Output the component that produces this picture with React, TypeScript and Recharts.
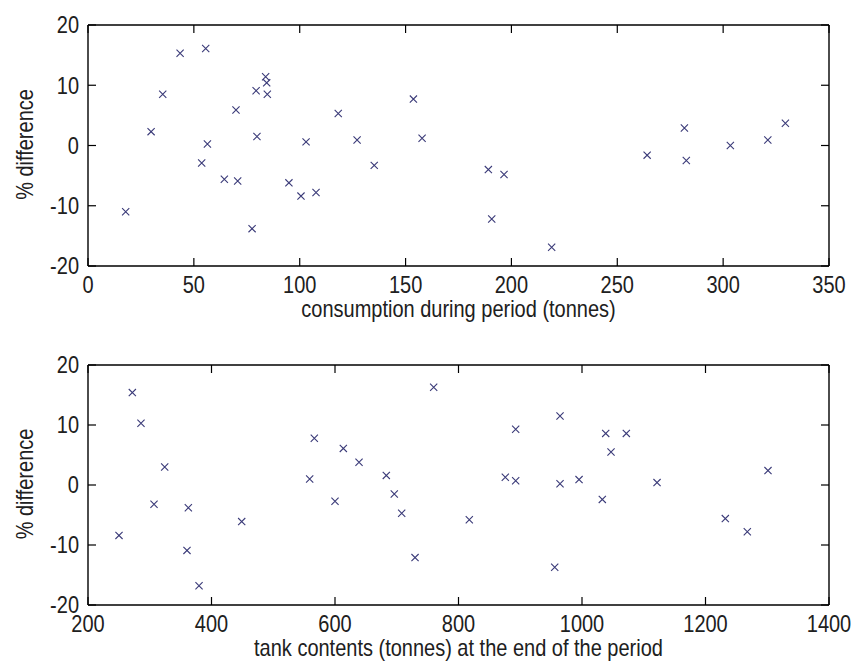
import React from "react";
import { ScatterChart, Scatter, XAxis, YAxis, Label } from "recharts";

// Top panel: consumption during period (tonnes) vs % difference
const consumption = [
  17.8, 29.8, 35.3, 43.5, 55.6, 53.7, 56.4, 64.4, 70.7, 69.9, 77.5, 79.8,
  79.4, 83.9, 84.4, 84.7, 94.9, 100.6, 103.0, 107.7, 118.2, 127.1, 135.2,
  153.7, 157.8, 189.1, 196.5, 190.7, 219.0, 264.1, 281.7, 282.6, 303.4,
  321.1, 329.4,
];
const diffTop = [
  -11.0, 2.3, 8.5, 15.3, 16.1, -2.9, 0.25, -5.6, -5.9, 5.9, -13.8, 1.5, 9.1,
  11.4, 10.4, 8.5, -6.2, -8.4, 0.6, -7.8, 5.3, 0.9, -3.3, 7.7, 1.2, -4.0,
  -4.8, -12.2, -16.9, -1.6, 2.9, -2.5, 0.0, 0.9, 3.7,
];

// Bottom panel: tank contents (tonnes) at end of period vs % difference
const tankContents = [
  250.2, 271.8, 285.8, 324.2, 306.9, 362.5, 360.3, 379.8, 448.9, 566.5, 559,
  613.5, 600, 638.9, 683.1, 696, 708, 729.6, 759.8, 817.5, 892.6, 875.8,
  892.6, 964.4, 964.4, 955.8, 995.2, 1032.9, 1038.4, 1047, 1071.8, 1121.5,
  1232.1, 1267.7, 1301.2,
];
const diffBottom = [
  -8.4, 15.4, 10.3, 3.0, -3.2, -3.8, -10.9, -16.8, -6.1, 7.8, 1.0, 6.1, -2.7,
  3.8, 1.6, -1.5, -4.7, -12.1, 16.3, -5.8, 9.3, 1.3, 0.7, 11.5, 0.2, -13.7,
  0.9, -2.4, 8.6, 5.5, 8.6, 0.4, -5.6, -7.8, 2.4,
];

const topXTicks = [0, 50, 100, 150, 200, 250, 300, 350];
const bottomXTicks = [200, 400, 600, 800, 1000, 1200, 1400];
const yTicks = [-20, -10, 0, 10, 20];

const topData = consumption.map((x, i) => ({ x, y: diffTop[i] }));
const bottomData = tankContents.map((x, i) => ({ x, y: diffBottom[i] }));

const FONT = "'Liberation Sans', Arial, sans-serif";
const FS = 20;
const SY = 1.17; // vertical stretch of the glyphs
const TXT = "#202020";
const MARK = "#3a3a78";
const TL = 8; // inward tick length

const Cross = (props: any) => {
  const { cx, cy } = props;
  if (cx == null || cy == null) return null;
  const r = 3.6;
  return (
    <path
      d={`M${cx - r},${cy - r}L${cx + r},${cy + r}M${cx - r},${cy + r}L${cx + r},${cy - r}`}
      stroke={MARK}
      strokeWidth={1.1}
      fill="none"
    />
  );
};

const Str = ({
  x,
  y,
  anchor,
  children,
  rotate,
}: {
  x: number;
  y: number;
  anchor: "start" | "middle" | "end";
  children: any;
  rotate?: boolean;
}) => (
  <text
    transform={`translate(${x},${y})${rotate ? " rotate(-90)" : ""} scale(1,${SY})`}
    x={0}
    y={0}
    textAnchor={anchor}
    fill={TXT}
    fontSize={FS}
    fontFamily={FONT}
  >
    {children}
  </text>
);

const BottomTick = (p: any) => {
  const { x, y, payload } = p;
  return (
    <g>
      <line x1={x} y1={y} x2={x} y2={y - TL} stroke="#000" strokeWidth={1.2} />
      <Str x={x} y={y + 26.5} anchor="middle">
        {payload.value}
      </Str>
    </g>
  );
};
const TopTick = (p: any) => {
  const { x, y } = p;
  return <line x1={x} y1={y} x2={x} y2={y + TL} stroke="#000" strokeWidth={1.2} />;
};
const LeftTick = (p: any) => {
  const { x, y, payload } = p;
  return (
    <g>
      <line x1={x} y1={y} x2={x + TL} y2={y} stroke="#000" strokeWidth={1.2} />
      <Str x={x - 9} y={y + 8.3} anchor="end">
        {payload.value}
      </Str>
    </g>
  );
};
const RightTick = (p: any) => {
  const { x, y } = p;
  return <line x1={x} y1={y} x2={x - TL} y2={y} stroke="#000" strokeWidth={1.2} />;
};

const axisLine = { stroke: "#000", strokeWidth: 1.4 };

function Panel({
  data,
  xDomain,
  xTicks,
  xLabel,
  height,
}: {
  data: { x: number; y: number }[];
  xDomain: [number, number];
  xTicks: number[];
  xLabel: string;
  height: number;
}) {
  return (
    <ScatterChart
      width={854}
      height={height}
      margin={{ top: 24, right: 24, bottom: 0, left: 0 }}
    >
      <XAxis
        xAxisId="b"
        dataKey="x"
        type="number"
        domain={xDomain}
        ticks={xTicks}
        allowDataOverflow
        height={66}
        tickSize={0}
        tickMargin={0}
        axisLine={axisLine}
        tickLine={false}
        tick={<BottomTick />}
        interval={0}
      >
        <Label
          content={(p: any) => {
            const vb = p.viewBox || {};
            return (
              <Str x={vb.x + vb.width / 2} y={vb.y + 51} anchor="middle">
                {xLabel}
              </Str>
            );
          }}
        />
      </XAxis>
      <XAxis
        xAxisId="t"
        orientation="top"
        type="number"
        dataKey="x"
        domain={xDomain}
        ticks={xTicks}
        allowDataOverflow
        height={1}
        tickSize={0}
        tickMargin={0}
        tick={<TopTick />}
        axisLine={axisLine}
        tickLine={false}
        interval={0}
      />
      <YAxis
        yAxisId="l"
        dataKey="y"
        type="number"
        domain={[-20, 20]}
        ticks={yTicks}
        allowDataOverflow
        width={88}
        tickSize={0}
        tickMargin={0}
        axisLine={axisLine}
        tickLine={false}
        tick={<LeftTick />}
        interval={0}
      >
        <Label
          content={(p: any) => {
            const vb = p.viewBox || {};
            const cy = vb.y + vb.height / 2 - 1;
            return (
              <Str x={33.4} y={cy} anchor="middle" rotate>
                % difference
              </Str>
            );
          }}
        />
      </YAxis>
      <YAxis
        yAxisId="r"
        orientation="right"
        type="number"
        dataKey="y"
        domain={[-20, 20]}
        ticks={yTicks}
        allowDataOverflow
        width={1}
        tickSize={0}
        tickMargin={0}
        tick={<RightTick />}
        axisLine={axisLine}
        tickLine={false}
        interval={0}
      />
      <Scatter
        xAxisId="b"
        yAxisId="l"
        data={data}
        shape={<Cross />}
        isAnimationActive={false}
      />
      <Scatter
        xAxisId="t"
        yAxisId="r"
        data={data}
        shape={() => null}
        isAnimationActive={false}
      />
    </ScatterChart>
  );
}

export default function App() {
  return (
    <div
      style={{
        position: "absolute",
        left: 0,
        top: 0,
        width: 854,
        height: 664,
        background: "#fff",
      }}
    >
      <div style={{ position: "absolute", left: 0, top: 0 }}>
        <Panel
          data={topData}
          xDomain={[0, 350]}
          xTicks={topXTicks}
          xLabel="consumption during period (tonnes)"
          height={332}
        />
      </div>
      <div style={{ position: "absolute", left: 0, top: 340 }}>
        <Panel
          data={bottomData}
          xDomain={[200, 1400]}
          xTicks={bottomXTicks}
          xLabel="tank contents (tonnes) at the end of the period"
          height={331}
        />
      </div>
    </div>
  );
}
